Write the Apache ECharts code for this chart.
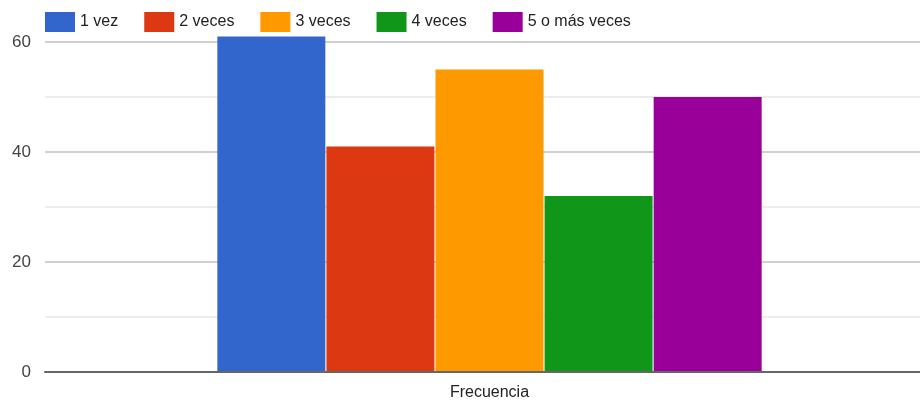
<!DOCTYPE html>
<html>
<head>
<meta charset="utf-8">
<script src="https://cdn.jsdelivr.net/npm/echarts@6/dist/echarts.min.js"></script>
<style>html,body{margin:0;padding:0;background:#fff}#c{width:920px;height:410px}</style>
</head>
<body>
<div id="c"></div>
<script>
var categories = ['Frecuencia'];
var seriesNames = ['1 vez', '2 veces', '3 veces', '4 veces', '5 o más veces'];
var seriesValues = [61, 41, 55, 32, 50];
var colors = ['#3366cc', '#dc3912', '#ff9900', '#109618', '#990099'];
var yTicks = [0, 20, 40, 60];

var FONT = "'Liberation Sans', Arial, sans-serif";
var chart = echarts.init(document.getElementById('c'), null, {renderer: 'canvas'});
var yMin = yTicks[0], yMax = yTicks[yTicks.length - 1];
var series = seriesNames.map(function (n, i) {
  return {
    name: n,
    type: 'bar',
    xAxisIndex: 1,
    yAxisIndex: 1,
    data: [seriesValues[i]],
    barWidth: 108,
    barGap: '1%',
    clip: false,
    itemStyle: {color: colors[i]},
    emphasis: {disabled: true}
  };
});
chart.setOption({
  animation: false,
  color: colors,
  textStyle: {fontFamily: FONT},
  legend: {
    left: 40, top: 7,
    itemWidth: 30, itemHeight: 20, itemGap: 26,
    icon: 'rect',
    textStyle: {fontFamily: FONT, fontSize: 16, color: '#222'},
    data: seriesNames
  },
  grid: [
    {left: 45, right: 0, top: 42, bottom: 38, containLabel: false},
    {left: 59, right: 0, top: 42, bottom: 38, containLabel: false}
  ],
  xAxis: [
    {
      type: 'category', gridIndex: 0,
      data: categories,
      z: 5,
      axisLine: {show: true, lineStyle: {color: '#666', width: 2}},
      axisTick: {show: false},
      axisLabel: {show: false}
    },
    {
      type: 'category', gridIndex: 1,
      data: categories,
      axisLine: {show: false},
      axisTick: {show: false},
      axisLabel: {fontFamily: FONT, fontSize: 16, color: '#222', margin: 13}
    }
  ],
  yAxis: [
    {
      type: 'value', gridIndex: 0,
      min: yMin, max: yMax, interval: 20,
      axisLine: {show: false},
      axisTick: {show: false},
      axisLabel: {fontFamily: FONT, fontSize: 17, color: '#444', margin: 14},
      splitLine: {show: true, lineStyle: {color: '#d0d0d0', width: 2}},
      minorTick: {show: false, splitNumber: 2},
      minorSplitLine: {show: true, lineStyle: {color: '#ededed', width: 2}}
    },
    {
      type: 'value', gridIndex: 1,
      min: yMin, max: yMax, interval: 20,
      show: false
    }
  ],
  series: series
});
</script>
</body>
</html>
